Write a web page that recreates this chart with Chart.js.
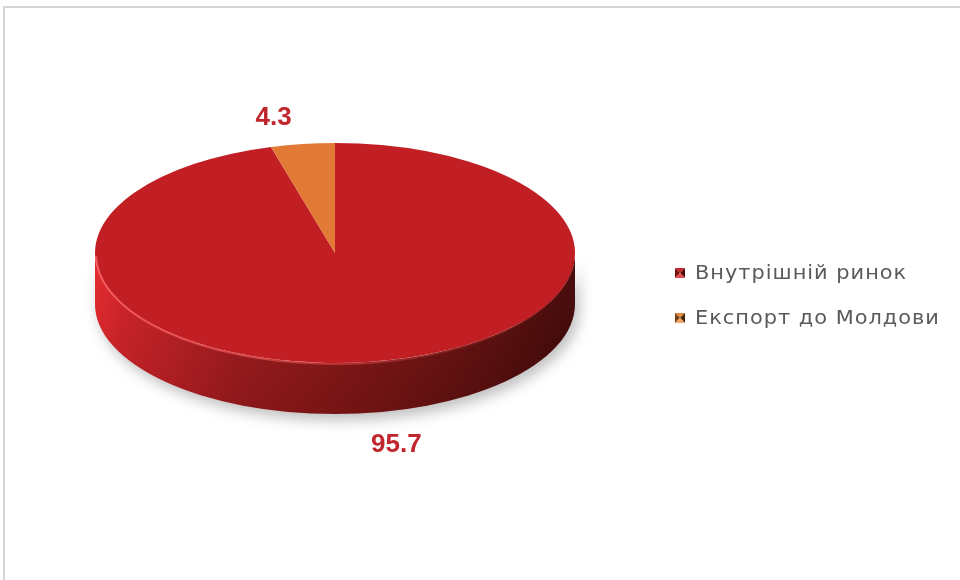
<!DOCTYPE html>
<html>
<head>
<meta charset="utf-8">
<script src="https://cdn.jsdelivr.net/npm/chart.js@4.4.1/dist/chart.umd.min.js"></script>
<style>
  html, body { margin: 0; padding: 0; background: #ffffff; }
  #wrap { position: relative; width: 960px; height: 580px; }
</style>
</head>
<body>
<div id="wrap"><canvas id="pie" width="960" height="580"></canvas></div>
<script>
// Sales split, per cent
const categories = ['Внутрішній ринок', 'Експорт до Молдови'];
const shares = [95.7, 4.3];
const sliceColors = ['#C21F25', '#E27A36'];

// Vertical squash of the disc and thickness of its rim
const TILT = 110 / 240;
const DEPTH = 51;

function discGeometry(chart) {
  const arc = chart.getDatasetMeta(0).data[0];
  return { cx: arc.x, cy: arc.y, r: arc.outerRadius, ry: arc.outerRadius * TILT };
}

const framePlugin = {
  id: 'frame',
  beforeDraw(chart) {
    const ctx = chart.ctx;
    ctx.save();
    ctx.strokeStyle = '#d6d6d6';
    ctx.lineWidth = 2;
    ctx.beginPath();
    ctx.moveTo(4, 580);
    ctx.lineTo(4, 7);
    ctx.lineTo(960, 7);
    ctx.stroke();
    ctx.restore();
  }
};

function rimPath(ctx, cx, cy, r, ry) {
  ctx.beginPath();
  ctx.ellipse(cx, cy, r, ry, 0, 0, Math.PI, false);
  ctx.lineTo(cx - r, cy + DEPTH);
  ctx.ellipse(cx, cy + DEPTH, r, ry, 0, Math.PI, 0, true);
  ctx.closePath();
}

const disc3dPlugin = {
  id: 'disc3d',
  beforeDatasetsDraw(chart) {
    const ctx = chart.ctx;
    const { cx, cy, r, ry } = discGeometry(chart);

    // rim (front half of the cylinder wall) with a soft drop shadow
    ctx.save();
    rimPath(ctx, cx, cy, r, ry);
    const g = ctx.createLinearGradient(cx - r, 0, cx + r, 0);
    g.addColorStop(0, '#e2282e');
    g.addColorStop(0.06, '#cc2228');
    g.addColorStop(0.3, '#9c1a1d');
    g.addColorStop(0.55, '#7e1515');
    g.addColorStop(0.8, '#5c0f0f');
    g.addColorStop(1, '#3a0707');
    ctx.shadowColor = 'rgba(0,0,0,0.26)';
    ctx.shadowBlur = 14;
    ctx.shadowOffsetX = 4;
    ctx.shadowOffsetY = 6;
    ctx.fillStyle = g;
    ctx.fill();
    ctx.restore();

    // subtle vertical shading on the rim
    ctx.save();
    rimPath(ctx, cx, cy, r, ry);
    const v = ctx.createLinearGradient(0, cy, 0, cy + ry + DEPTH);
    v.addColorStop(0, 'rgba(255,80,80,0.10)');
    v.addColorStop(1, 'rgba(0,0,0,0.10)');
    ctx.fillStyle = v;
    ctx.fill();
    ctx.restore();

    // squash the slices into the top face
    ctx.save();
    ctx.translate(cx, cy);
    ctx.scale(1, TILT);
    ctx.translate(-cx, -cy);
  },
  afterDatasetsDraw(chart) {
    const ctx = chart.ctx;
    ctx.restore();
    const { cx, cy, r, ry } = discGeometry(chart);

    // light bevel along the front edge of the top face
    ctx.save();
    const hl = ctx.createLinearGradient(cx - r, 0, cx + r, 0);
    hl.addColorStop(0, 'rgba(255,110,110,0.75)');
    hl.addColorStop(0.5, 'rgba(255,90,90,0.45)');
    hl.addColorStop(1, 'rgba(120,20,20,0.2)');
    ctx.strokeStyle = hl;
    ctx.lineWidth = 2;
    ctx.beginPath();
    ctx.ellipse(cx, cy + 1, r - 1, ry, 0, 0.05, Math.PI - 0.02, false);
    ctx.stroke();
    ctx.restore();

    // value labels
    const meta = chart.getDatasetMeta(0);
    ctx.save();
    ctx.font = 'bold 26px "Liberation Sans", Arial, sans-serif';
    ctx.fillStyle = '#C0262C';
    ctx.textAlign = 'center';
    ctx.textBaseline = 'middle';
    meta.data.forEach((arc, i) => {
      const mid = (arc.startAngle + arc.endAngle) / 2;
      const s = Math.sin(mid);
      const x = cx + Math.cos(mid) * r * 1.9;
      const y = s < 0 ? cy + s * (ry + 26) : cy + DEPTH + s * (ry + 32);
      ctx.fillText(String(shares[i]), x, y);
    });
    ctx.restore();
  }
};

const legendPlugin = {
  id: 'bevelLegend',
  afterDraw(chart) {
    const ctx = chart.ctx;
    const x0 = 675, y0 = 273, step = 45, box = 10;
    const shades = [
      ['#c4262c', '#7a1010', '#4e0a0a', '#e24a4e'],
      ['#dc8a3e', '#7a4214', '#4a2608', '#f3a466']
    ];
    ctx.save();
    categories.forEach((name, i) => {
      const y = y0 + i * step;
      const bx = x0, by = y - box / 2;
      const c = [bx + box / 2, by + box / 2];
      const [top, left, right, bottom] = shades[i];
      const tri = (p1, p2, col) => {
        ctx.beginPath();
        ctx.moveTo(p1[0], p1[1]);
        ctx.lineTo(p2[0], p2[1]);
        ctx.lineTo(c[0], c[1]);
        ctx.closePath();
        ctx.fillStyle = col;
        ctx.fill();
      };
      tri([bx, by], [bx + box, by], top);
      tri([bx, by], [bx, by + box], left);
      tri([bx + box, by], [bx + box, by + box], right);
      tri([bx, by + box], [bx + box, by + box], bottom);

      // wide, light lettering
      ctx.save();
      ctx.translate(x0 + 20, y + 1);
      ctx.scale(1.1, 1);
      ctx.font = '19px "DejaVu Sans", sans-serif';
      ctx.letterSpacing = '0.9px';
      ctx.fillStyle = '#5a5a5a';
      ctx.textBaseline = 'middle';
      ctx.textAlign = 'left';
      ctx.fillText(name, 0, 0);
      ctx.restore();
    });
    ctx.restore();
  }
};

new Chart(document.getElementById('pie'), {
  type: 'pie',
  data: {
    labels: categories,
    datasets: [{
      data: shares,
      backgroundColor: sliceColors,
      borderWidth: 0
    }]
  },
  options: {
    responsive: false,
    animation: false,
    devicePixelRatio: 1,
    layout: { padding: { left: 95, right: 385, top: 13, bottom: 87 } },
    plugins: {
      legend: { display: false },
      tooltip: { enabled: false }
    }
  },
  plugins: [framePlugin, disc3dPlugin, legendPlugin]
});
</script>
</body>
</html>
